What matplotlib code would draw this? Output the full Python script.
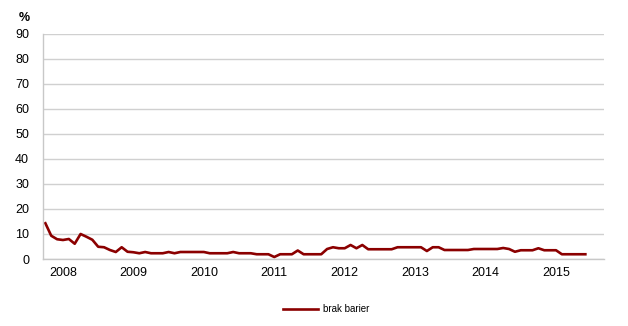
import numpy as np
import matplotlib.pyplot as plt

plt.rcParams['font.family'] = ['Liberation Sans', 'DejaVu Sans']

# monthly values, Oct 2007 .. Jun 2015 (month 0 = Jan 2008)
months = list(range(-3, 90))
brak_barier = [
    14.3, 9.3, 7.9,                                                   # 2007 Q4
    7.6, 8.0, 6.1, 10.0, 8.9, 7.7, 4.9, 4.7, 3.6, 2.8, 4.7, 2.9,      # 2008
    2.7, 2.3, 2.8, 2.3, 2.3, 2.3, 2.8, 2.3, 2.8, 2.8, 2.8, 2.8,       # 2009
    2.8, 2.3, 2.3, 2.3, 2.3, 2.8, 2.3, 2.3, 2.3, 1.9, 1.9, 1.9,       # 2010
    0.8, 1.9, 1.9, 1.9, 3.4, 1.9, 1.9, 1.9, 1.9, 4.0, 4.7, 4.3,       # 2011
    4.3, 5.6, 4.3, 5.6, 3.9, 3.9, 3.9, 3.9, 3.9, 4.7, 4.7, 4.7,       # 2012
    4.7, 4.7, 3.2, 4.7, 4.7, 3.6, 3.6, 3.6, 3.6, 3.6, 4.0, 4.0,       # 2013
    4.0, 4.0, 4.0, 4.4, 4.0, 2.9, 3.5, 3.5, 3.5, 4.3, 3.5, 3.5,       # 2014
    3.5, 1.9, 1.9, 1.9, 1.9, 1.9,                                     # 2015
]
years = ['2008', '2009', '2010', '2011', '2012', '2013', '2014', '2015']
year_pos = [12 * i for i in range(len(years))]

fig = plt.figure(figsize=(6.28, 3.26), dpi=100)
ax = fig.add_axes([0.0685, 0.2055, 0.8935, 0.6905])

ax.plot(months, brak_barier, color='#8b0000', linewidth=1.9, label='brak barier')

ax.set_xlim(-3.4, 92.2)
ax.set_ylim(0, 90)
ax.set_yticks(range(0, 91, 10))
ax.set_xticks(year_pos)
ax.set_xticklabels(years)
ax.tick_params(axis='both', length=0, labelsize=9, colors='#000000')
ax.tick_params(axis='y', pad=10)
ax.tick_params(axis='x', pad=6)

ax.grid(axis='y', color='#d0d0d0', linewidth=1)
ax.set_axisbelow(True)
for s in ['top', 'right']:
    ax.spines[s].set_visible(False)
for s in ['left', 'bottom']:
    ax.spines[s].set_color('#c8c8c8')
    ax.spines[s].set_linewidth(1)

fig.text(0.030, 0.945, '%', fontsize=9, fontweight='bold', ha='left', va='center')

fig.legend(loc='center', bbox_to_anchor=(0.52, 0.052), frameon=False,
           fontsize=7, handlelength=3.6, handletextpad=0.5)

plt.savefig('out.png', dpi=100)
